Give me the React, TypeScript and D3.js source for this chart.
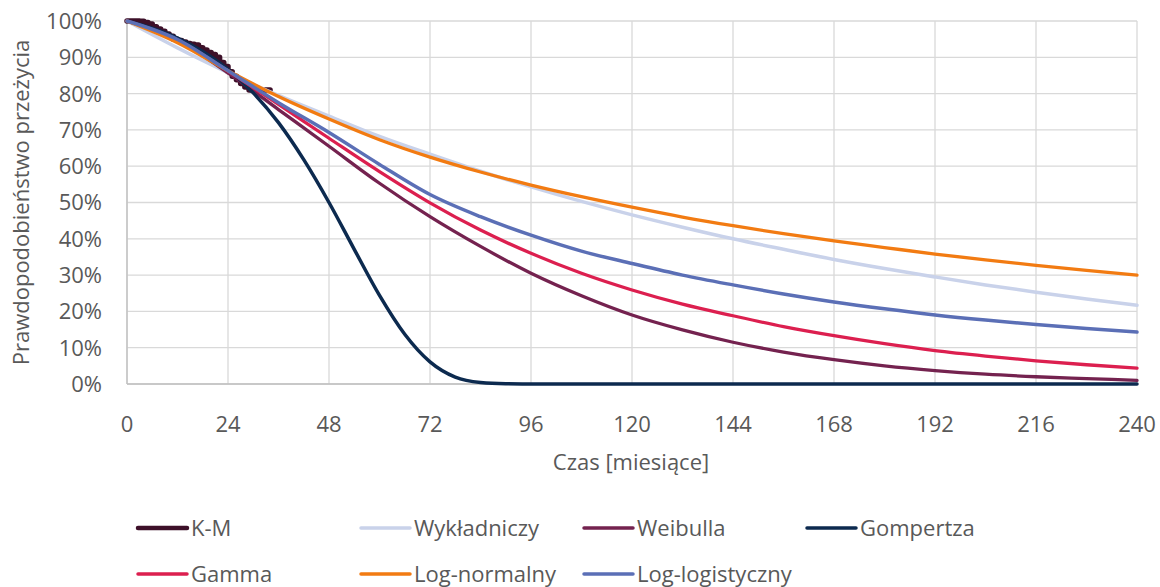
import React from "react";
import * as d3 from "d3";

const W = 1160;
const H = 587;

const months = [0, 12, 24, 36, 48, 60, 72, 84, 96, 108, 120, 132, 144, 156, 168, 180, 192, 204, 216, 228, 240];
const expo = [100, 92.6, 85.8, 79.5, 73.8, 68.2, 63.3, 58.6, 54.3, 50.3, 46.6, 43.2, 40.0, 37.1, 34.3, 31.8, 29.5, 27.3, 25.3, 23.4, 21.7];
const weibull = [100, 94.6, 85.7, 75.6, 65.5, 55.3, 46.1, 37.9, 30.5, 24.3, 19.0, 14.9, 11.5, 8.8, 6.7, 5.0, 3.7, 2.7, 2.0, 1.5, 1.0];
const gamma = [100, 94.8, 86.2, 77.0, 67.7, 58.5, 49.9, 42.4, 36.0, 30.5, 25.9, 22.0, 18.8, 15.8, 13.3, 11.1, 9.2, 7.7, 6.4, 5.3, 4.4];
const lognormal = [100, 94.0, 86.3, 79.2, 73.0, 67.3, 62.5, 58.4, 54.8, 51.6, 48.7, 46.0, 43.6, 41.4, 39.4, 37.6, 35.8, 34.2, 32.7, 31.3, 30.0];
const loglogistic = [100, 94.9, 86.3, 77.5, 69.3, 60.5, 52.2, 46.1, 41.0, 36.6, 33.2, 30.0, 27.3, 24.8, 22.6, 20.7, 19.0, 17.6, 16.4, 15.3, 14.3];

const gompMonths = [0, 6, 12, 18, 24, 30, 36, 42, 48, 54, 60, 66, 72, 78, 84, 90, 96, 108, 120, 144, 168, 192, 216, 240];
const gompertz = [100, 98.0, 95.3, 91.6, 86.7, 80.2, 72.0, 61.8, 50.0, 37.1, 24.4, 13.7, 6.1, 1.9, 0.4, 0.05, 0, 0, 0, 0, 0, 0, 0, 0];

const kmMonths = [0, 3, 4, 5, 6, 7, 8, 9, 10, 11, 12, 13, 14, 15, 16, 17, 18, 19, 20, 21, 22, 23, 24, 25, 26, 27, 28, 29, 30, 31, 32, 33, 34];
const km = [100, 99.9, 99.6, 99.2, 98.4, 97.8, 97.2, 96.4, 95.8, 95.0, 94.6, 94.2, 93.8, 93.6, 93.4, 92.6, 92.0, 91.3, 90.8, 90.0, 88.6, 87.5, 86.0, 84.8, 83.8, 82.8, 81.8, 81.0, 81.0, 81.0, 81.0, 81.0, 81.0];

const xTicks = [0, 24, 48, 72, 96, 120, 144, 168, 192, 216, 240];
const yTicks = [0, 10, 20, 30, 40, 50, 60, 70, 80, 90, 100];

const seriesNames = ["K-M", "Wykładniczy", "Weibulla", "Gompertza", "Gamma", "Log-normalny", "Log-logistyczny"];
const seriesColors = ["#3d1029", "#c9d2ea", "#74224f", "#0c2a4f", "#dc1f4f", "#f27b12", "#5b6fb6"];

const FONT = "'Open Sans', sans-serif";
const TXT = "#595959";
const FS = 22;

export default function App() {
  const x = d3.scaleLinear().domain([0, 240]).range([127, 1137]);
  const y = d3.scaleLinear().domain([0, 100]).range([384, 21]);

  const smooth = d3
    .line<[number, number]>()
    .x((d) => x(d[0]))
    .y((d) => y(d[1]))
    .curve(d3.curveMonotoneX);
  const step = d3
    .line<[number, number]>()
    .x((d) => x(d[0]))
    .y((d) => y(d[1]))
    .curve(d3.curveStepAfter);

  const zip = (ts: number[], vs: number[]) => ts.map((t, i) => [t, vs[i]] as [number, number]);

  const paths = [
    { d: step(zip(kmMonths, km)), w: 5.5 },
    { d: smooth(zip(months, expo)), w: 3.5 },
    { d: smooth(zip(months, weibull)), w: 3.3 },
    { d: smooth(zip(gompMonths, gompertz)), w: 3.5 },
    { d: smooth(zip(months, gamma)), w: 3.3 },
    { d: smooth(zip(months, lognormal)), w: 3.3 },
    { d: smooth(zip(months, loglogistic)), w: 3.5 },
  ];

  const legendCols = [138, 361, 584, 807];
  const legendRows = [528, 574];

  return (
    <svg width={W} height={H} style={{ position: "absolute", left: 0, top: 0, background: "#fff" }} fontFamily={FONT}>
      {/* grid */}
      {yTicks.map((t) => (
        <line key={"gy" + t} x1={x(0)} x2={x(240)} y1={y(t)} y2={y(t)} stroke="#d9d9d9" strokeWidth={1.3} />
      ))}
      {xTicks.map((t) => (
        <line key={"gx" + t} x1={x(t)} x2={x(t)} y1={y(0)} y2={y(100)} stroke="#d9d9d9" strokeWidth={1.3} />
      ))}
      <line x1={x(0)} x2={x(0)} y1={y(0)} y2={y(100)} stroke="#bfbfbf" strokeWidth={1.3} />
      <line x1={x(0)} x2={x(240)} y1={y(0)} y2={y(0)} stroke="#bfbfbf" strokeWidth={1.3} />

      {/* series */}
      {paths.map((p, i) => (
        <path
          key={seriesNames[i]}
          d={p.d || ""}
          fill="none"
          stroke={seriesColors[i]}
          strokeWidth={p.w}
          strokeLinejoin="round"
          strokeLinecap="round"
        />
      ))}

      {/* y ticks */}
      {yTicks.map((t) => (
        <text key={"ty" + t} x={102} y={y(t)} dy="0.36em" textAnchor="end" fontSize={FS} fill={TXT}>
          {t + "%"}
        </text>
      ))}
      {/* x ticks */}
      {xTicks.map((t) => (
        <text key={"tx" + t} x={x(t)} y={432} textAnchor="middle" fontSize={FS} fill={TXT}>
          {t}
        </text>
      ))}

      <text x={631} y={470} textAnchor="middle" fontSize={FS} fill={TXT}>
        Czas [miesiące]
      </text>
      <text
        transform={`translate(29,${(y(0) + y(100)) / 2}) rotate(-90)`}
        textAnchor="middle"
        fontSize={FS}
        fill={TXT}
      >
        Prawdopodobieństwo przeżycia
      </text>

      {/* legend */}
      {seriesNames.map((name, i) => {
        const col = i % 4;
        const row = Math.floor(i / 4);
        const lx = legendCols[col];
        const ly = legendRows[row];
        return (
          <g key={"lg" + name}>
            <line
              x1={lx}
              x2={lx + 49}
              y1={ly}
              y2={ly}
              stroke={seriesColors[i]}
              strokeWidth={i === 0 ? 4.5 : 3.5}
              strokeLinecap="round"
            />
            <text x={lx + 53} y={ly} dy="0.36em" fontSize={FS} fill={TXT}>
              {name}
            </text>
          </g>
        );
      })}
    </svg>
  );
}
